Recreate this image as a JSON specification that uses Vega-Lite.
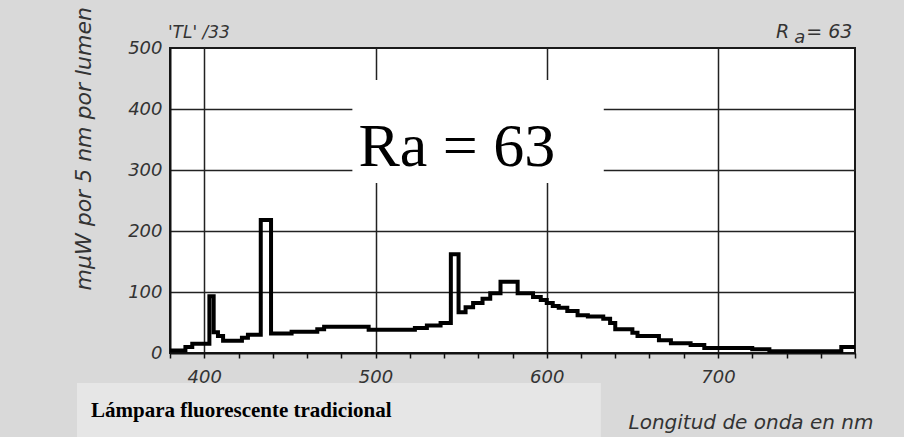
{
  "$schema": "https://vega.github.io/schema/vega-lite/v6.json",
  "width": 685,
  "height": 305,
  "autosize": {"type": "none"},
  "padding": {"left": 170, "top": 48, "right": 49, "bottom": 84},
  "background": "#d9d9d9",
  "config": {
    "view": {"fill": "white", "stroke": "#1a1a1a", "strokeWidth": 2},
    "font": "DejaVu Sans"
  },
  "resolve": {"axis": {"x": "independent", "y": "independent"}},
  "datasets": {
    "spectrum": [
      {"wl": 380, "v": 4}, {"wl": 389, "v": 10}, {"wl": 393, "v": 15},
      {"wl": 403, "v": 93}, {"wl": 405.5, "v": 34}, {"wl": 408, "v": 28},
      {"wl": 411, "v": 20}, {"wl": 422, "v": 25}, {"wl": 425.5, "v": 30},
      {"wl": 433, "v": 218}, {"wl": 439, "v": 32}, {"wl": 451, "v": 35},
      {"wl": 466, "v": 39}, {"wl": 470, "v": 43}, {"wl": 496, "v": 38},
      {"wl": 523, "v": 41}, {"wl": 530, "v": 45}, {"wl": 538, "v": 49},
      {"wl": 544, "v": 162}, {"wl": 548.5, "v": 67}, {"wl": 552.6, "v": 75},
      {"wl": 557, "v": 82}, {"wl": 562.5, "v": 89}, {"wl": 567, "v": 98},
      {"wl": 573, "v": 117}, {"wl": 583, "v": 98}, {"wl": 592, "v": 92},
      {"wl": 596.5, "v": 87}, {"wl": 600, "v": 82}, {"wl": 603.5, "v": 77},
      {"wl": 607, "v": 74}, {"wl": 612, "v": 69}, {"wl": 618, "v": 62},
      {"wl": 624, "v": 60}, {"wl": 633, "v": 56}, {"wl": 637, "v": 49},
      {"wl": 640, "v": 39}, {"wl": 650, "v": 33}, {"wl": 653, "v": 28},
      {"wl": 665.5, "v": 21}, {"wl": 672.5, "v": 16}, {"wl": 684, "v": 13},
      {"wl": 692, "v": 8}, {"wl": 720, "v": 6}, {"wl": 730, "v": 3},
      {"wl": 772, "v": 10}, {"wl": 780, "v": 10}
    ],
    "one": [{}]
  },
  "layer": [
    {
      "data": {"name": "spectrum"},
      "mark": {"type": "line", "interpolate": "step-after", "color": "black", "strokeWidth": 4, "strokeJoin": "miter", "clip": true},
      "encoding": {
        "x": {
          "field": "wl", "type": "quantitative",
          "scale": {"domain": [380, 780], "nice": false, "zero": false},
          "axis": {
            "values": [380, 400, 420, 440, 460, 480, 500, 520, 540, 560, 580, 600, 620, 640, 660, 680, 700, 720, 740, 760, 780],
            "labelExpr": "datum.value % 100 == 0 ? datum.label : ''",
            "labelOverlap": false, "labelFlush": false,
            "grid": true, "gridColor": "#222", "gridWidth": 1.5,
            "gridOpacity": {"condition": {"test": "datum.value % 100 == 0 && datum.value > 380 && datum.value < 780", "value": 1}, "value": 0},
            "ticks": true, "tickColor": "#111", "tickSize": 5, "tickWidth": 1.5,
            "domainColor": "#111", "domainWidth": 2,
            "labelFont": "DejaVu Sans", "labelFontStyle": "italic", "labelFontSize": 18, "labelColor": "#333", "labelPadding": 10,
            "title": "Longitud de onda en nm",
            "titleFont": "DejaVu Sans", "titleFontStyle": "italic", "titleFontWeight": "normal", "titleFontSize": 20, "titleColor": "#333",
            "titleAnchor": null, "titleAlign": "left", "titleBaseline": "alphabetic", "titleX": 458, "titleY": 75
          }
        },
        "y": {
          "field": "v", "type": "quantitative",
          "scale": {"domain": [0, 500], "nice": false},
          "axis": {
            "values": [0, 100, 200, 300, 400, 500],
            "grid": true, "gridColor": "#222", "gridWidth": 1.5,
            "gridOpacity": {"condition": {"test": "datum.value > 0 && datum.value < 500", "value": 1}, "value": 0},
            "ticks": false, "tickSize": 0,
            "domainColor": "#111", "domainWidth": 2,
            "labelFont": "DejaVu Sans", "labelFontStyle": "italic", "labelFontSize": 18, "labelColor": "#333", "labelPadding": 8,
            "title": "mµW por 5 nm por lumen",
            "titleFont": "DejaVu Sans", "titleFontStyle": "italic", "titleFontWeight": "normal", "titleFontSize": 22, "titleColor": "#333",
            "titleAnchor": null, "titleAngle": 270, "titleAlign": "left", "titleBaseline": "alphabetic", "titleX": -80, "titleY": 242
          }
        }
      }
    },
    {
      "data": {"name": "one"},
      "mark": {"type": "rect", "fill": "white"},
      "encoding": {"x": {"datum": 486.5, "axis": null}, "x2": {"datum": 633.3}, "y": {"datum": 447.5, "axis": null}, "y2": {"datum": 278.7}}
    },
    {
      "data": {"name": "one"},
      "mark": {"type": "text", "text": "Ra = 63", "font": "Liberation Serif", "fontSize": 62, "color": "black", "align": "center", "baseline": "alphabetic"},
      "encoding": {"x": {"datum": 547.5, "axis": null}, "y": {"datum": 306.6, "axis": null}}
    },
    {
      "data": {"name": "one"},
      "mark": {"type": "rect", "fill": "#e6e6e6"},
      "encoding": {"x": {"datum": 325.7, "axis": null}, "x2": {"datum": 631.6}, "y": {"datum": -49.2, "axis": null}, "y2": {"datum": -137.7}}
    },
    {
      "data": {"name": "one"},
      "mark": {"type": "text", "text": "Lámpara fluorescente tradicional", "font": "Liberation Serif", "fontWeight": "bold", "fontSize": 21, "color": "black", "align": "center", "baseline": "alphabetic"},
      "encoding": {"x": {"datum": 421.6, "axis": null}, "y": {"datum": -104.9, "axis": null}}
    },
    {
      "data": {"name": "one"},
      "mark": {"type": "text", "text": "'TL' /33", "font": "DejaVu Sans", "fontStyle": "italic", "fontSize": 17, "color": "#333", "align": "left", "baseline": "alphabetic"},
      "encoding": {"x": {"datum": 378.8, "axis": null}, "y": {"datum": 516.4, "axis": null}}
    },
    {
      "data": {"name": "one"},
      "mark": {"type": "text", "text": "R", "font": "DejaVu Sans", "fontStyle": "italic", "fontSize": 19, "color": "#333", "align": "left", "baseline": "alphabetic"},
      "encoding": {"x": {"datum": 733.9, "axis": null}, "y": {"datum": 516.4, "axis": null}}
    },
    {
      "data": {"name": "one"},
      "mark": {"type": "text", "text": "a", "font": "DejaVu Sans", "fontStyle": "italic", "fontSize": 18, "color": "#333", "align": "left", "baseline": "alphabetic"},
      "encoding": {"x": {"datum": 744.5, "axis": null}, "y": {"datum": 508.2, "axis": null}}
    },
    {
      "data": {"name": "one"},
      "mark": {"type": "text", "text": "= 63", "font": "DejaVu Sans", "fontStyle": "italic", "fontSize": 19, "color": "#333", "align": "left", "baseline": "alphabetic"},
      "encoding": {"x": {"datum": 751.5, "axis": null}, "y": {"datum": 516.4, "axis": null}}
    }
  ]
}
